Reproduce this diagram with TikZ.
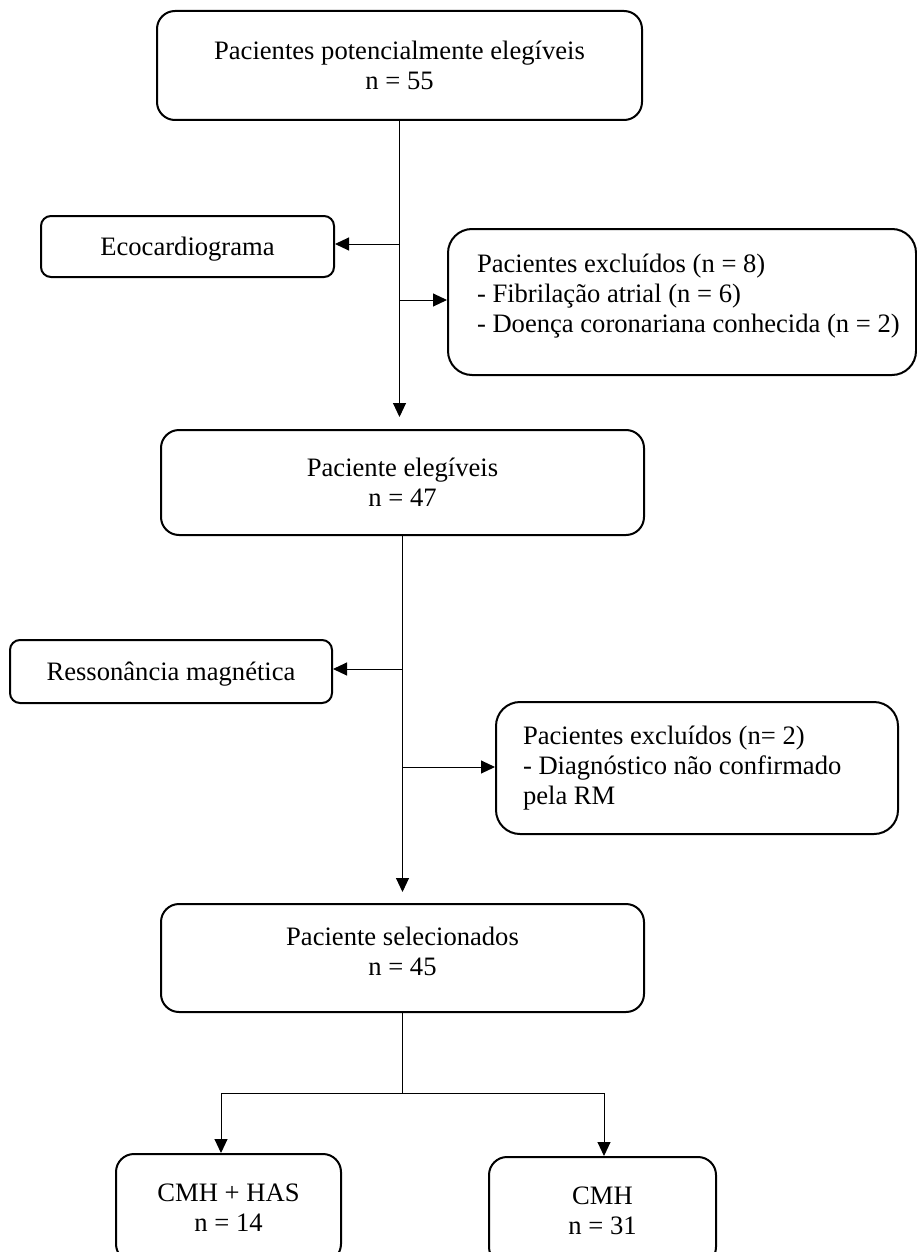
\documentclass[tikz,border=0pt]{standalone}
\usepackage{fontspec}
\setmainfont{Liberation Serif}
\usetikzlibrary{arrows.meta,calc}
\newcommand\diagfont{\fontsize{26.6pt}{30pt}\selectfont}
\begin{document}
\begin{tikzpicture}[x=1pt,y=-1pt,
  boxbase/.style={draw=black, line width=2pt, inner sep=0pt, align=center, font=\diagfont},
  bigbox/.style={boxbase, rounded corners=18pt},
  smallbox/.style={boxbase, rounded corners=10pt, text depth=0pt},
  exclbox/.style={boxbase, rounded corners=24pt, align=flush left},
  conn/.style={line width=1pt, draw=black},
  arr/.style={conn, -{Triangle[length=14pt,width=13pt]}}]
\useasboundingbox (0,0) rectangle (917,1252);
\clip (0,0) rectangle (917,1252);

\node[bigbox, minimum width=485pt, minimum height=109pt] (b1) at (399.5,65.5)
  {Pacientes potencialmente elegíveis\\n = 55};
\node[smallbox, minimum width=293pt, minimum height=61pt] (eco) at (187.5,246.5)
  {Ecocardiograma};
\node[exclbox, minimum width=468pt, minimum height=146pt, text width=410pt, inner xsep=29pt] (ex1) at (682,302)
  {\mbox{Pacientes excluídos (n = 8)}\\\mbox{- Fibrilação atrial (n = 6)}\\\mbox{- Doença coronariana conhecida (n = 2)}\\[-12pt]\mbox{}};
\node[bigbox, minimum width=483pt, minimum height=105pt] (b2) at (402.5,482.5)
  {Paciente elegíveis\\n = 47};
\node[smallbox, minimum width=322pt, minimum height=63pt] (ress) at (171,671.5)
  {Ressonância magnética};
\node[exclbox, minimum width=402pt, minimum height=132pt, text width=348pt, inner xsep=27pt] (ex2) at (697,768)
  {\mbox{Pacientes excluídos (n= 2)}\\\mbox{- Diagnóstico não confirmado}\\\mbox{pela RM}};
\node[bigbox, minimum width=483pt, minimum height=108pt] (b3) at (402.5,958)
  {Paciente selecionados\\n = 45\\[-16pt]\mbox{}};
\node[bigbox, minimum width=225pt, minimum height=108pt] (has) at (228.5,1208)
  {CMH + HAS\\n = 14};
\node[bigbox, minimum width=227pt, minimum height=108pt] (cmh) at (602.5,1211)
  {CMH\\n = 31};

% trunk 1
\draw[arr, shorten >=12pt] (b1.south) -- (b1.south |- b2.north);
\path (b1.south) ++(0,123) coordinate (j1);
\path (b1.south) ++(0,179) coordinate (j2);
\draw[arr] (j1) -- (j1 -| eco.east);
\draw[arr] (j2) -- (j2 -| ex1.west);

% trunk 2
\draw[arr, shorten >=11pt] (b2.south) -- (b2.south |- b3.north);
\path (b2.south) ++(0,133) coordinate (j3);
\path (b2.south) ++(0,231) coordinate (j4);
\draw[arr] (j3) -- (j3 -| ress.east);
\draw[arr] (j4) -- (j4 -| ex2.west);

% split
\path (b3.south) ++(0,81) coordinate (split);
\coordinate (sl) at (221,1093);
\coordinate (sr) at (604,1093);
\draw[conn] (b3.south) -- (split);
\draw[conn] (sl) -- (sr);
\draw[arr] (sl) -- (sl |- has.north);
\draw[arr] (sr) -- (sr |- cmh.north);
\end{tikzpicture}
\end{document}
